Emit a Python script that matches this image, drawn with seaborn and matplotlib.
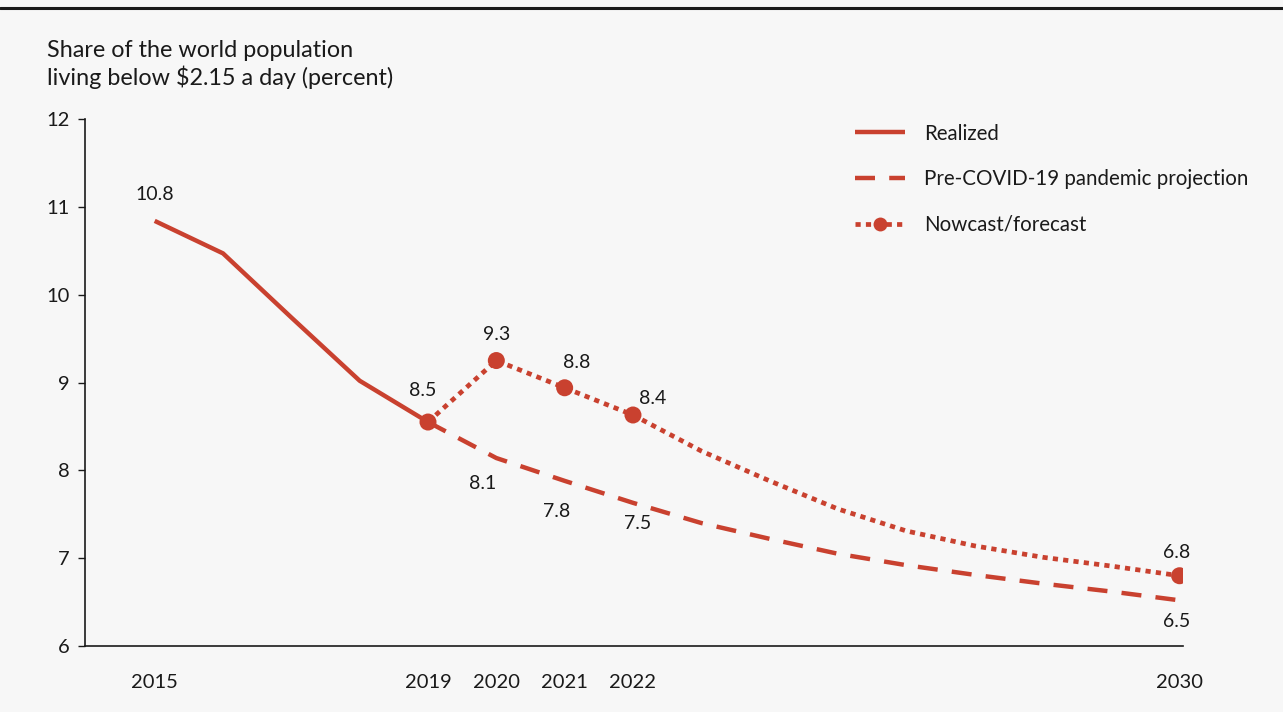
import matplotlib
matplotlib.use("Agg")
import matplotlib.pyplot as plt
from matplotlib.lines import Line2D
import seaborn as sns
import pandas as pd

# data
realized_years = [2015, 2016, 2017, 2018, 2019]
realized_vals = [10.84, 10.47, 9.74, 9.02, 8.55]

precovid_years = [2019, 2020, 2021, 2022, 2023, 2024, 2025, 2026, 2027, 2028, 2029, 2030]
precovid_vals = [8.55, 8.14, 7.88, 7.63, 7.40, 7.22, 7.05, 6.92, 6.81, 6.71, 6.62, 6.52]

nowcast_years = [2019, 2020, 2021, 2022, 2023, 2024, 2025, 2026, 2027, 2028, 2029, 2030]
nowcast_vals = [8.55, 9.25, 8.94, 8.63, 8.22, 7.88, 7.56, 7.31, 7.14, 7.01, 6.91, 6.80]
nowcast_marked = [2019, 2020, 2021, 2022, 2030]

# value labels: (year, y, text, offset in points)
value_labels = [
    (2015, 10.84, "10.8", (0, 19)),
    (2019, 8.55, "8.5", (-4, 23)),
    (2020, 9.25, "9.3", (0, 19)),
    (2021, 8.94, "8.8", (9, 18)),
    (2022, 8.63, "8.4", (14, 12)),
    (2020, 8.14, "8.1", (-10, -18)),
    (2021, 7.88, "7.8", (-6, -22)),
    (2022, 7.63, "7.5", (3, -15)),
    (2030, 6.80, "6.8", (-2, 17)),
    (2030, 6.52, "6.5", (-2, -15)),
]

xtick_years = [2015, 2019, 2020, 2021, 2022, 2030]
ytick_vals = [6, 7, 8, 9, 10, 11, 12]

RED = "#c9412f"
BG = "#f7f7f7"

sns.set_theme(style="white")
plt.rcParams["font.family"] = ["Lato", "DejaVu Sans"]

fig = plt.figure(figsize=(12.83, 7.12), dpi=100, facecolor=BG)
ax = fig.add_axes([85 / 1283, 1 - 646 / 712, (1183 - 85) / 1283, (646 - 119) / 712])
ax.set_facecolor(BG)

sns.lineplot(x=realized_years, y=realized_vals, ax=ax, color=RED, lw=3.2,
             solid_capstyle="butt")
sns.lineplot(x=precovid_years, y=precovid_vals, ax=ax, color=RED, lw=3.2,
             linestyle=(0, (4.5, 3.2)), dash_capstyle="butt")
sns.lineplot(x=nowcast_years, y=nowcast_vals, ax=ax, color=RED, lw=3.4,
             linestyle=(0, (1.1, 1.1)), dash_capstyle="butt")
marked = pd.DataFrame({"year": nowcast_years, "val": nowcast_vals})
marked = marked[marked["year"].isin(nowcast_marked)]
sns.scatterplot(data=marked, x="year", y="val", ax=ax, color=RED, s=150,
                edgecolor="none", zorder=5)

for yr, v, txt, off in value_labels:
    ax.annotate(txt, (yr, v), xytext=off, textcoords="offset points",
                ha="center", va="center", fontsize=14, color="#1a1a1a")

ax.set_xlim(2013.98, 2030.05)
ax.set_ylim(6, 12)
ax.set_xticks(xtick_years)
ax.set_xticklabels([str(y) for y in xtick_years])
ax.set_yticks(ytick_vals)
ax.set_xlabel("")
ax.set_ylabel("")
ax.tick_params(axis="x", length=0, pad=20, labelsize=14.5, colors="#1a1a1a")
ax.tick_params(axis="y", length=5, width=1, direction="out", left=True, pad=6,
               labelsize=14.5, colors="#1a1a1a")
sns.despine(ax=ax)
for side in ["left", "bottom"]:
    ax.spines[side].set_color("#1a1a1a")
    ax.spines[side].set_linewidth(1.2)

handles = [
    Line2D([], [], color=RED, lw=3.2, solid_capstyle="butt"),
    Line2D([], [], color=RED, lw=3.2, linestyle=(0, (4.5, 3.2)), dash_capstyle="butt"),
    Line2D([], [], color=RED, lw=3.4, linestyle=(0, (1.1, 1.1)), marker="o",
           markersize=10, markeredgewidth=0),
]
labels = ["Realized", "Pre-COVID-19 pandemic projection", "Nowcast/forecast"]
fig.legend(handles, labels, loc="upper left", bbox_to_anchor=(836 / 1283, 1 - 105 / 712),
           frameon=False, fontsize=14.8, handlelength=2.45, handletextpad=0.95,
           labelspacing=1.25, numpoints=1, labelcolor="#1a1a1a")

fig.text(47 / 1283, 1 - 40 / 712,
         "Share of the world population\nliving below \\$2.15 a day (percent)",
         ha="left", va="top", fontsize=16.8, linespacing=1.25, color="#1a1a1a")

fig.add_artist(Line2D([0, 1], [1 - 8 / 712, 1 - 8 / 712], transform=fig.transFigure,
                      color="#1a1a1a", lw=2.2))

fig.savefig("out.png", dpi=100, facecolor=BG)
